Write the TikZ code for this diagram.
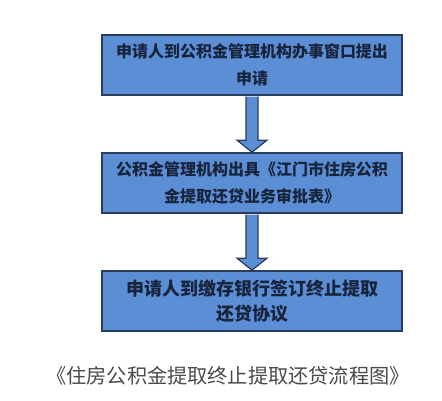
\documentclass[tikz,border=0pt]{standalone}
\usepackage{fontspec}
\newfontfamily\cjk{Noto Sans CJK SC}
\usetikzlibrary{calc}
\definecolor{boxfill}{HTML}{5B8ED5}
\definecolor{boxline}{HTML}{2B3D5C}
\definecolor{boxtext}{HTML}{18243C}
\definecolor{captext}{HTML}{4A4A4A}
\tikzset{
  stepbox/.style={draw=boxline, line width=1.6pt, fill=boxfill, minimum width=300pt,
    minimum height=60pt, inner sep=0pt, align=center, text=boxtext},
  blockarrow/.style={draw=boxline, line width=1.2pt, fill=boxfill, line join=miter},
}
\begin{document}
\begin{tikzpicture}[x=1pt,y=-1pt]
\useasboundingbox (0,0) rectangle (442,400);
\fill[white] (0,0) rectangle (442,400);
\node[stepbox, font={\cjk\bfseries\fontsize{16}{27}\selectfont}] (b1) at (252,65)
  {申请人到公积金管理机构办事窗口提出\\申请};
\node[stepbox, font={\cjk\bfseries\fontsize{16}{27}\selectfont}] (b2) at (252,183)
  {公积金管理机构出具《江门市住房公积\\金提取还贷业务审批表》};
\node[stepbox, font={\cjk\bfseries\fontsize{18}{25}\selectfont}] (b3) at (252,301)
  {申请人到缴存银行签订终止提取\\还贷协议};
\node[font={\cjk\fontsize{20.2}{24}\selectfont}, text=captext, inner sep=0pt] (cap) at (228,376)
  {《住房公积金提取终止提取还贷流程图》};
\foreach \a/\b in {b1/b2, b2/b3}{
  \draw[blockarrow]
    ($(\a.south)+(-6,0.8)$) -- ($(\b.north)+(-6,-12)$) -- ($(\b.north)+(-15,-12)$)
    -- ($(\b.north)+(0,0)$) -- ($(\b.north)+(15,-12)$) -- ($(\b.north)+(6,-12)$)
    -- ($(\a.south)+(6,0.8)$);
}
\end{tikzpicture}
\end{document}
